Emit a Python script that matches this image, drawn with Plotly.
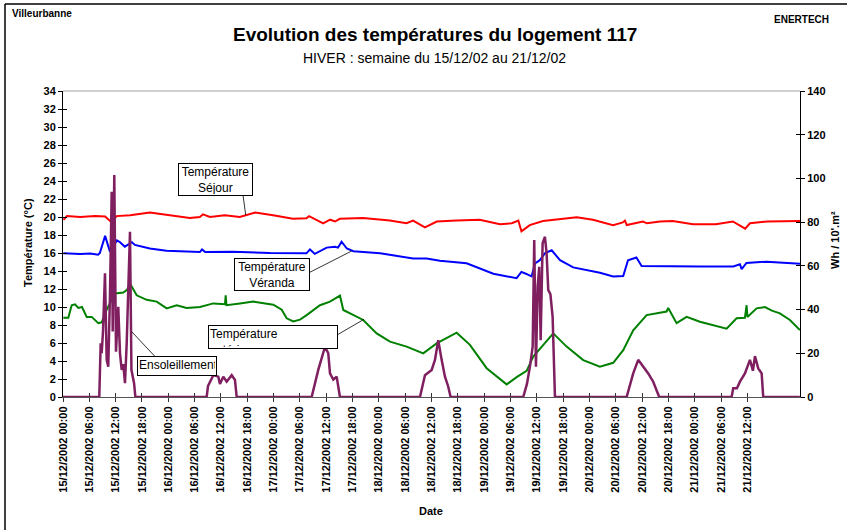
import pandas as pd
import plotly.graph_objects as go

START = pd.Timestamp("2002-12-15 00:00")
END = pd.Timestamp("2002-12-22 00:00")

# ---- Température Séjour (°C), time in hours since 15/12/2002 00:00
sejour_h = [0.1, 0.9, 3.9, 7.3, 9.6, 11.1, 12.2, 15.3, 19.8, 24.4, 28.9, 31.2, 31.9, 33.5, 36.9,
            40.3, 43.8, 47.9, 52.4, 55.5, 56.1, 59.3, 60.9, 62.0, 63.1, 68.4, 74.5, 78.3, 79.8,
            82.5, 85.2, 89.7, 95.0, 99.6, 102.3, 103.8, 104.5, 106.4, 109.4, 117.1, 120.8, 125.4,
            127.6, 128.1, 128.5, 132.2, 133.1, 136.1, 139.0, 143.6, 148.8, 152.7, 155.5, 156.6,
            160.5, 168.0]
sejour_t = [19.7, 20.1, 20.0, 20.1, 20.05, 19.4, 20.1, 20.2, 20.5, 20.2, 19.9, 20.0, 20.3, 20.0, 20.2,
            20.0, 20.5, 20.2, 19.8, 19.85, 20.1, 19.3, 19.7, 19.5, 19.8, 19.9, 19.6, 19.3, 19.6,
            18.85, 19.5, 19.6, 19.7, 19.2, 19.3, 19.6, 18.4, 19.1, 19.55, 19.96, 19.7, 19.1,
            19.4, 19.6, 19.1, 19.5, 19.3, 19.5, 19.55, 19.2, 19.2, 19.5, 18.7, 19.3,
            19.5, 19.55]

# ---- Température Véranda (°C)
veranda_h = [0.1, 3.9, 6.2, 8.0, 8.4, 9.6, 10.7, 12.3, 13.0, 14.1, 15.7, 16.4, 19.8, 23.6, 31.2,
             31.7, 32.4, 38.7, 47.2, 52.4, 55.5, 56.3, 57.4, 60.1, 62.0, 62.7, 63.5, 64.7, 66.2,
             72.3, 79.8, 82.9, 85.9, 92.0, 98.1, 103.4, 104.5, 105.5, 106.8, 107.6, 108.7, 109.9,
             111.4, 113.3, 116.3, 122.4, 125.4, 127.7, 128.8, 130.7, 131.9, 145.2, 152.8, 154.3,
             154.7, 155.8, 160.4, 168.0]
veranda_t = [15.96, 15.9, 15.95, 15.8, 16.0, 17.9, 16.15, 17.4, 17.2, 16.7, 17.2, 16.9, 16.5, 16.25, 16.1,
             16.4, 16.1, 16.15, 16.0, 15.96, 15.96, 16.4, 15.9, 16.6, 16.7, 16.6, 17.26, 16.5, 16.2,
             15.96, 15.4, 15.4, 15.15, 14.85, 13.7, 13.2, 13.9, 13.7, 13.4, 14.85, 15.2, 16.0,
             16.3, 15.2, 14.4, 13.8, 13.4, 13.45, 15.2, 15.5, 14.55, 14.5, 14.5, 14.75,
             14.2, 14.9, 15.04, 14.8]

# ---- Température extérieure (°C)
exterieure_h = [0.07, 1.21, 1.98, 2.74, 3.49, 4.33, 5.40, 6.54, 8.05, 8.82, 9.96, 11.85, 13.74, 14.59,
                15.27, 16.80, 19.08, 21.36, 23.64, 25.91, 28.19, 31.23, 34.26, 36.92, 37.08, 37.26,
                40.34, 43.37, 47.93, 49.85, 50.99, 52.49, 54.02, 55.54, 58.58, 60.86, 63.14, 63.89,
                68.44, 71.50, 74.53, 78.34, 82.12, 85.17, 89.73, 92.76, 96.57, 99.60, 101.13, 103.41,
                105.69, 107.19, 108.72, 111.75, 114.80, 118.59, 122.39, 125.42, 127.70, 129.98,
                133.04, 137.59, 137.96, 139.87, 142.15, 145.18, 151.27, 153.55, 155.44, 155.83,
                156.01, 158.11, 160.00, 161.60, 163.42, 165.70, 167.98]
exterieure_t = [8.8, 8.8, 10.2, 10.3, 9.9, 10.0, 8.9, 8.9, 8.2, 8.3, 9.7, 11.5, 11.6, 11.9,
                12.6, 11.3, 10.8, 10.6, 9.85, 10.2, 9.9, 10.0, 10.4, 10.3, 11.3, 10.2,
                10.4, 10.6, 10.25, 9.7, 8.74, 8.4, 8.6, 9.1, 10.2, 10.6, 11.26, 9.67,
                8.56, 7.07, 6.15, 5.6, 4.85, 5.96, 7.15, 5.8, 3.2, 2.07, 1.4, 2.2,
                2.9, 4.5, 5.4, 7.07, 5.6, 4.1, 3.37, 3.8, 5.2, 7.4,
                9.1, 9.5, 9.9, 8.2, 8.9, 8.37, 7.6, 8.74, 8.8, 10.2,
                8.9, 9.85, 10.0, 9.6, 9.3, 8.56, 7.44]

# ---- Ensoleillement (Wh / 10'.m²)
soleil_h = [0, 8.27, 8.59, 8.82, 9.12, 9.57, 9.96, 10.32, 10.71, 11.10, 11.33, 11.69, 12.08, 12.60,
            12.99, 13.38, 13.74, 14.13, 14.52, 15.27, 15.60, 15.95, 16.20, 16.50,
            32.75, 33.05, 34.26, 35.40, 35.78, 36.54, 37.31, 38.45, 39.20, 39.59,
            56.68, 58.19, 58.96, 59.72, 60.47, 60.86, 61.61, 62.38, 63.13,
            81.37, 82.51, 84.04, 84.79, 85.54, 86.31, 87.07, 87.82, 88.36,
            104.91, 105.76, 106.44, 107.06, 107.42, 107.81, 108.20, 108.56, 108.88, 109.33,
            109.86, 110.24, 110.61, 111.11, 111.61, 112.14,
            128.48, 129.98, 131.12, 132.26, 133.40, 134.54, 135.91,
            152.41, 152.78, 153.62, 154.31, 155.45, 156.59, 157.27, 157.73, 158.48, 159.26,
            159.62, 167.98]
soleil_w = [0, 0, 24.6, 20, 30, 56.6, 17, 13.9, 46.7, 93.9, 30, 101.6, 20.7, 41.3,
            20, 12.4, 15, 6.3, 24.6, 75.6, 12.4, 7.8, 6.3, 0,
            0, 5, 10, 9.3, 6, 9.3, 7, 10, 7.8, 0,
            0, 12.4, 18.4, 23, 20, 10.8, 8, 9.3, 0,
            0, 10, 12.4, 17, 26, 17, 9.3, 4.7, 0,
            0, 6, 13.9, 23, 71.8, 13.9, 50.5, 59.6, 26, 70.3,
            73.3, 65.7, 49, 47, 36.7, 0,
            0, 10.8, 17, 13.9, 10.8, 7, 0,
            0, 4, 4, 7, 10.8, 17, 12, 18.7, 13.1, 10.8,
            0, 0]

# ---- Axis ticks
tick_times = pd.date_range(START, periods=27, freq="6h")
y_left_range = [0, 34]
y_right_range = [0, 140]

FONT = "Arial, Liberation Sans, sans-serif"
W, H = 847, 530
L, R, T, B = 63, 800, 91, 397  # plot area in pixels


def px(x):
    return (x - L) / (R - L)


def py(y):
    return (B - y) / (B - T)


def to_time(hours):
    return START + pd.to_timedelta(hours, unit="h")


fig = go.Figure()
fig.add_trace(go.Scatter(x=to_time(sejour_h), y=sejour_t, mode="lines",
                         line=dict(color="#FF0000", width=2), name="Température Séjour"))
fig.add_trace(go.Scatter(x=to_time(veranda_h), y=veranda_t, mode="lines",
                         line=dict(color="#0000FF", width=2), name="Température Véranda"))
fig.add_trace(go.Scatter(x=to_time(exterieure_h), y=exterieure_t, mode="lines",
                         line=dict(color="#008000", width=2), name="Température extérieure"))
fig.add_trace(go.Scatter(x=to_time(soleil_h), y=soleil_w, mode="lines", yaxis="y2",
                         line=dict(color="#7F1F60", width=2.5), name="Ensoleillement"))
# empty traces to activate inner-tick overlay axes
fig.add_trace(go.Scatter(x=[], y=[], xaxis="x2", yaxis="y3", showlegend=False, hoverinfo="skip"))
fig.add_trace(go.Scatter(x=[], y=[], xaxis="x2", yaxis="y4", showlegend=False, hoverinfo="skip"))

tickfont = dict(family=FONT, size=11, color="black", weight="bold")

fig.update_layout(
    width=W, height=H, autosize=False,
    margin=dict(l=L, r=W - R, t=T, b=H - B, pad=0),
    paper_bgcolor="white", plot_bgcolor="white",
    showlegend=False,
    font=dict(family=FONT, color="black"),
    xaxis=dict(type="date", range=[START, END], tickvals=tick_times,
               tickformat="%d/%m/%Y %H:%M", tickangle=-90, tickfont=tickfont,
               ticks="outside", ticklen=4, tickcolor="#333", showline=True,
               linecolor="#555", linewidth=1, showgrid=False, zeroline=False,
               automargin=False),
    xaxis2=dict(type="date", range=[START, END], tickvals=tick_times, overlaying="x",
                anchor="y", ticks="inside", ticklen=4, tickcolor="#333",
                showticklabels=False, showline=False, showgrid=False, zeroline=False,
                automargin=False),
    yaxis=dict(range=y_left_range, dtick=2, tickfont=tickfont, ticks="outside",
               ticklen=4, tickcolor="black", showline=True, linecolor="black",
               linewidth=1, showgrid=False, zeroline=False, automargin=False),
    yaxis2=dict(range=y_right_range, dtick=20, overlaying="y", side="right",
                tickfont=tickfont, ticks="outside", ticklen=4, tickcolor="black",
                showline=True, linecolor="black", linewidth=1, showgrid=False,
                zeroline=False, automargin=False),
    yaxis3=dict(range=y_left_range, dtick=2, overlaying="y", side="left", anchor="x2",
                ticks="inside", ticklen=4, tickcolor="black", showticklabels=False,
                showline=False, showgrid=False, zeroline=False, automargin=False),
    yaxis4=dict(range=y_right_range, dtick=20, overlaying="y", side="right", anchor="x2",
                ticks="inside", ticklen=4, tickcolor="black", showticklabels=False,
                showline=False, showgrid=False, zeroline=False, automargin=False),
)

shapes = [
    # top frame of the plot area (gray)
    dict(type="line", xref="paper", yref="paper", x0=0, x1=1, y0=1, y1=1,
         line=dict(color="#A0A0A0", width=1)),
    # outer chart border (top and left)
    dict(type="line", xref="paper", yref="paper", x0=px(5), x1=px(W + 5), y0=py(4), y1=py(4),
         line=dict(color="black", width=1.5)),
    dict(type="line", xref="paper", yref="paper", x0=px(5), x1=px(5), y0=py(4), y1=py(H + 5),
         line=dict(color="black", width=1.5)),
    # leader lines of the labels
    dict(type="line", xref="paper", yref="paper", x0=px(243), y0=py(195), x1=px(245.7), y1=py(215),
         line=dict(color="black", width=0.8)),
    dict(type="line", xref="paper", yref="paper", x0=px(309), y0=py(272.7), x1=px(351.7), y1=py(251),
         line=dict(color="black", width=0.8)),
    dict(type="line", xref="paper", yref="paper", x0=px(337), y0=py(335), x1=px(364), y1=py(319.3),
         line=dict(color="black", width=0.8)),
    dict(type="line", xref="paper", yref="paper", x0=px(155), y0=py(356.5), x1=px(131.7), y1=py(331.7),
         line=dict(color="black", width=0.8)),
]
fig.update_layout(shapes=shapes)

ann = []


def text(x, y, s, size, xanchor="center", yanchor="middle", weight="normal", angle=0):
    ann.append(dict(xref="paper", yref="paper", x=px(x), y=py(y), text=s, showarrow=False,
                    xanchor=xanchor, yanchor=yanchor, textangle=angle,
                    font=dict(family=FONT, size=size, color="black", weight=weight)))


text(10, 13, "Villeurbanne", 10, xanchor="left", weight="bold")
text(831, 20, "ENERTECH", 10, xanchor="right", weight="bold")
text(434.5, 35, "Evolution des températures du logement 117", 19, weight="bold")
text(434.5, 58, "HIVER : semaine du 15/12/02 au 21/12/02", 14)
text(28, 243, "Température (°C)", 11, weight="bold", angle=-90)
text(835, 240, "Wh / 10'.m²", 11, weight="bold", angle=-90)
text(431, 511, "Date", 11, weight="bold")


def box(cx, cy, s, w, h, align="center"):
    ann.append(dict(xref="paper", yref="paper", x=px(cx), y=py(cy), text=s, showarrow=False,
                    xanchor="center", yanchor="middle", width=w, height=h, align=align,
                    valign="top", bordercolor="black", borderwidth=1, borderpad=1,
                    bgcolor="white", font=dict(family=FONT, size=12, color="black")))


box(215, 179, "Température<br>Séjour", 71, 29)
box(271.5, 274, "Température<br>Véranda", 72, 29)
box(272.5, 337.3, "Température<br>extérieure", 126, 20, align="left")
box(176.5, 365.5, "Ensoleillement", 76, 16, align="left")

fig.update_layout(annotations=ann)

fig.write_html(
    "out.html",
    config={"displayModeBar": False},
    post_script="document.body.style.margin='0';document.body.style.overflow='hidden';",
)
